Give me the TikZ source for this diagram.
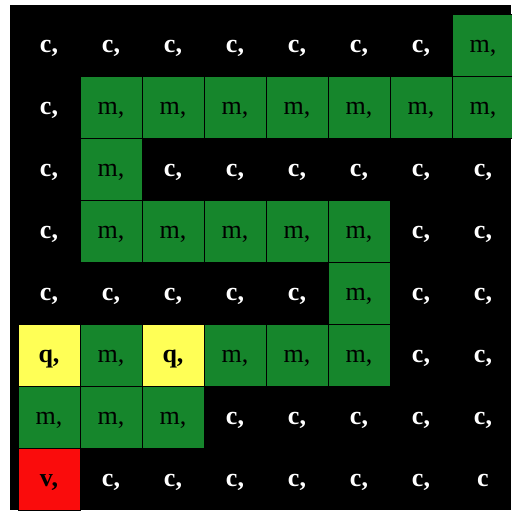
\documentclass[tikz,border=0pt]{standalone}
\usepackage{fontspec}
\setmainfont{Liberation Serif}
\definecolor{cellgreen}{RGB}{22,134,44}
\definecolor{cellyellow}{RGB}{255,255,86}
\definecolor{cellred}{RGB}{250,12,12}
\tikzset{
  cell/.style={minimum size=31pt, inner sep=0pt, line width=0.4pt,
    text height=7pt, text depth=0pt, font=\fontsize{13}{14}\selectfont},
  cellc/.style={cell, text=white, font=\fontsize{13}{14}\selectfont\bfseries, node contents={c,}},
  cellx/.style={cellc, node contents={c}},
  cellm/.style={cell, draw=black, fill=cellgreen, node contents={m,}},
  cellq/.style={cell, draw=black, fill=cellyellow, font=\fontsize{13}{14}\selectfont\bfseries, node contents={q,}},
  cellv/.style={cell, draw=black, fill=cellred, font=\fontsize{13}{14}\selectfont\bfseries, node contents={v,}},
}
\begin{document}
\begin{tikzpicture}[x=0.5pt, y=-0.5pt]
  \useasboundingbox (0,0) rectangle (511,514);
  % schwarzer Hintergrund
  \fill[black] (10,5) rectangle (511,510);
  % Zellen, Zeile fuer Zeile
  \foreach \row [count=\r from 0] in {
      {c,c,c,c,c,c,c,m},
      {c,m,m,m,m,m,m,m},
      {c,m,c,c,c,c,c,c},
      {c,m,m,m,m,m,c,c},
      {c,c,c,c,c,m,c,c},
      {q,m,q,m,m,m,c,c},
      {m,m,m,c,c,c,c,c},
      {v,c,c,c,c,c,c,x}} {
    \foreach \t [count=\k from 0] in \row {
      \node (n-\r-\k) at ({49+62*\k},{45+62*\r}) [cell\t];
    }
  }
\end{tikzpicture}
\end{document}
